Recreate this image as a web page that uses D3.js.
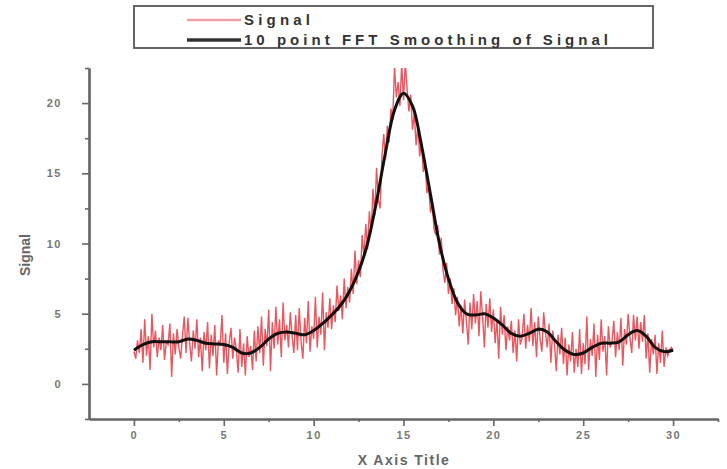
<!DOCTYPE html>
<html>
<head>
<meta charset="utf-8">
<script src="https://cdn.jsdelivr.net/npm/d3@7"></script>
<style>
  body { margin: 0; background: #fff; }
</style>
</head>
<body>
<div id="chart-container"></div>
<script>
const width = 727;
const height = 469;

// x positions of the raw signal: 0.0 .. 30.0 step 0.1
const signalX = d3.range(0, 301).map(i => i / 10);

const signalY = [
    2.3, 1.8, 3.1, 2.2, 3.9, 1.5, 4.6, 2.0, 3.4, 1.0,
    5.0, 2.6, 3.8, 1.9, 3.3, 2.4, 4.2, 1.7, 3.0, 2.8,
    4.3, 0.5, 3.6, 2.1, 3.9, 2.6, 1.8, 3.4, 4.8, 2.2,
    4.7, 2.9, 1.6, 3.8, 2.5, 4.6, 1.9, 3.3, 0.9, 3.7,
    2.4, 4.4, 1.1, 3.5, 2.0, 4.2, 0.6, 3.1, 2.7, 4.9,
    1.5, 3.6, 0.7, 2.9, 4.0, 1.8, 3.3, 2.4, 0.8, 3.9,
    1.2, 2.9, 0.6, 3.4, 1.9, 2.7, 1.0, 3.8, 1.6, 4.1,
    2.2, 4.8, 1.3, 3.9, 2.7, 5.3, 0.9, 4.4, 2.5, 5.5,
    2.8, 4.6, 1.9, 5.8, 3.1, 4.2, 2.6, 5.1, 3.4, 2.2,
    4.9, 2.4, 5.4, 3.0, 1.8, 4.7, 2.9, 5.9, 2.3, 4.1,
    3.2, 6.2, 2.6, 4.8, 3.5, 6.5, 2.4, 5.1, 4.0, 6.1,
    3.9, 5.6, 4.4, 7.0, 5.2, 6.3, 4.6, 7.5, 5.4, 6.9,
    5.8, 8.2, 6.4, 9.5, 7.1, 8.8, 7.6, 10.6, 9.0, 11.4,
    9.6, 12.3, 10.8, 13.9, 12.0, 15.4, 13.1, 12.5, 16.2, 17.8,
    16.0, 18.4, 17.2, 19.6, 18.8, 22.6, 20.4, 21.5, 19.8, 22.8,
    20.2, 22.9, 21.0, 19.4, 20.6, 18.1, 19.3, 17.0, 18.4, 16.2,
    17.3, 15.1, 15.8, 13.6, 14.1, 12.2, 12.9, 11.0, 10.6, 11.3,
    9.2, 10.4, 8.1, 7.2, 8.6, 6.4, 7.5, 5.7, 6.8, 4.9,
    6.2, 4.1, 5.6, 3.6, 6.0, 4.5, 2.8, 5.8, 3.9, 6.4,
    4.3, 5.9, 3.4, 6.6, 4.8, 2.6, 5.7, 4.0, 6.1, 3.7,
    5.3, 2.9, 4.6, 1.8, 5.5, 3.5, 4.9, 2.4, 4.1, 3.1,
    4.5, 2.2, 3.8, 1.6, 4.6, 2.8, 3.3, 5.0, 2.5, 4.2,
    3.0, 5.4, 2.7, 4.4, 1.9, 4.8, 3.2, 2.3, 5.1, 3.6,
    2.6, 4.3, 1.5, 3.8, 2.9, 0.9, 3.5, 2.1, 4.0, 1.4,
    3.3, 0.6, 2.8, 1.6, 3.7, 0.8, 2.5, 1.2, 3.9, 0.7,
    2.9, 1.4, 4.8, 1.0, 3.2, 2.0, 4.3, 0.5, 3.5, 1.7,
    4.6, 2.3, 3.4, 0.6, 4.1, 2.6, 3.0, 4.5, 1.9, 3.7,
    2.4, 4.7, 1.3, 3.9, 2.8, 5.0, 3.3, 2.2, 4.9, 3.1,
    4.8, 2.5, 4.4, 3.0, 4.9, 1.8, 3.6, 0.8, 3.2, 2.1,
    3.5, 0.7, 2.9, 1.5, 3.8, 1.2, 2.6, 2.0, 2.4, 2.6,
    2.4
];

// smoothed curve, read every 0.5
const smoothX = d3.range(0, 61).map(i => i / 2);
const smoothY = [
    2.4, 2.8, 3.0, 3.0, 3.0, 3.0, 3.2, 3.1, 2.9, 2.85,
    2.8, 2.6, 2.2, 2.2, 2.6, 3.2, 3.6, 3.7, 3.6, 3.5,
    3.8, 4.3, 4.9, 5.6, 6.6, 8.0, 10.0, 13.0, 16.5, 19.5,
    20.7, 19.8, 17.0, 13.5, 10.0, 7.5, 5.8, 5.0, 4.9, 5.0,
    4.7, 4.2, 3.6, 3.4, 3.6, 3.9, 3.7, 3.0, 2.4, 2.1,
    2.2, 2.6, 2.9, 2.9, 3.0, 3.5, 3.8, 3.4, 2.6, 2.3,
    2.4
];

const xMajor = [0, 5, 10, 15, 20, 25, 30];
const xMinor = [2.5, 7.5, 12.5, 17.5, 22.5, 27.5, 32.5];
const yMajor = [0, 5, 10, 15, 20];
const yMinor = [-2.5, 2.5, 7.5, 12.5, 17.5, 22.5];

const legendLabels = [
    { name: "Signal", color: "#eea0a8", width: 2.5, textLen: 66 },
    { name: "10 point FFT Smoothing of Signal", color: "#333", width: 3.5, textLen: 364 }
];

const x = d3.scaleLinear().domain([-2.5, 32.5]).range([89, 718]);
const y = d3.scaleLinear().domain([-2.5, 22.5]).range([419, 68]);

const svg = d3.select("#chart-container")
    .append("svg")
    .attr("width", width)
    .attr("height", height)
    .style("font-family", "Liberation Sans, Arial, sans-serif");

svg.append("clipPath")
    .attr("id", "plot-clip")
    .append("rect")
    .attr("x", 89)
    .attr("y", 68)
    .attr("width", 629)
    .attr("height", 351);

const signal = signalX.map((d, i) => ({ x: d, y: signalY[i] }));
const smooth = smoothX.map((d, i) => ({ x: d, y: smoothY[i] }));

svg.append("path")
    .datum(signal)
    .attr("clip-path", "url(#plot-clip)")
    .attr("fill", "none")
    .attr("stroke", "#e62c36")
    .attr("stroke-width", 1.4)
    .attr("stroke-opacity", 0.8)
    .attr("d", d3.line().x(d => x(d.x)).y(d => y(d.y)));

svg.append("path")
    .datum(smooth)
    .attr("fill", "none")
    .attr("stroke", "#151010")
    .attr("stroke-width", 3)
    .attr("stroke-linejoin", "round")
    .attr("d", d3.line().x(d => x(d.x)).y(d => y(d.y)).curve(d3.curveCatmullRom));

// axes
function styleAxis(g) {
    g.selectAll(".domain").attr("stroke", "#666").attr("stroke-width", 2.2);
    g.selectAll(".tick line").attr("stroke", "#666").attr("stroke-width", 1.6);
    g.selectAll(".tick text")
        .attr("fill", "#777")
        .style("font-size", "11px")
        .style("font-weight", "bold")
        .style("letter-spacing", "1.5px");
}

svg.append("g")
    .attr("transform", "translate(0,419)")
    .call(d3.axisBottom(x).tickValues(xMajor).tickSize(7).tickSizeOuter(0).tickPadding(5))
    .call(styleAxis);

svg.append("g")
    .attr("transform", "translate(0,419)")
    .call(d3.axisBottom(x).tickValues(xMinor).tickSize(3).tickSizeOuter(0).tickFormat(""))
    .call(styleAxis);

svg.append("g")
    .attr("transform", "translate(89,0)")
    .call(d3.axisLeft(y).tickValues(yMajor).tickSize(7).tickSizeOuter(0).tickPadding(20))
    .call(styleAxis);

svg.append("g")
    .attr("transform", "translate(89,0)")
    .call(d3.axisLeft(y).tickValues(yMinor).tickSize(4).tickSizeOuter(0).tickFormat(""))
    .call(styleAxis);

// axis titles
svg.append("text")
    .attr("x", 404)
    .attr("y", 465)
    .attr("text-anchor", "middle")
    .attr("fill", "#666")
    .style("font-size", "14px")
    .style("font-weight", "bold")
    .style("letter-spacing", "1.5px")
    .text("X Axis Title");

svg.append("text")
    .attr("transform", "translate(30,255) rotate(-90)")
    .attr("text-anchor", "middle")
    .attr("fill", "#666")
    .style("font-size", "14px")
    .style("font-weight", "bold")
    .text("Signal");

// legend
const legend = svg.append("g");

legend.append("rect")
    .attr("x", 134)
    .attr("y", 6)
    .attr("width", 519)
    .attr("height", 42)
    .attr("fill", "#fff")
    .attr("stroke", "#555")
    .attr("stroke-width", 1.8);

legend.selectAll("line")
    .data(legendLabels)
    .join("line")
    .attr("x1", 187)
    .attr("x2", 241)
    .attr("y1", (d, i) => 20 + i * 20)
    .attr("y2", (d, i) => 20 + i * 20)
    .attr("stroke", d => d.color)
    .attr("stroke-width", d => d.width);

legend.selectAll("text")
    .data(legendLabels)
    .join("text")
    .attr("x", 244)
    .attr("y", (d, i) => 25 + i * 20)
    .attr("fill", "#333")
    .attr("textLength", d => d.textLen)
    .attr("lengthAdjust", "spacing")
    .style("font-size", "15px")
    .style("font-weight", "bold")
    .text(d => d.name);
</script>
</body>
</html>
